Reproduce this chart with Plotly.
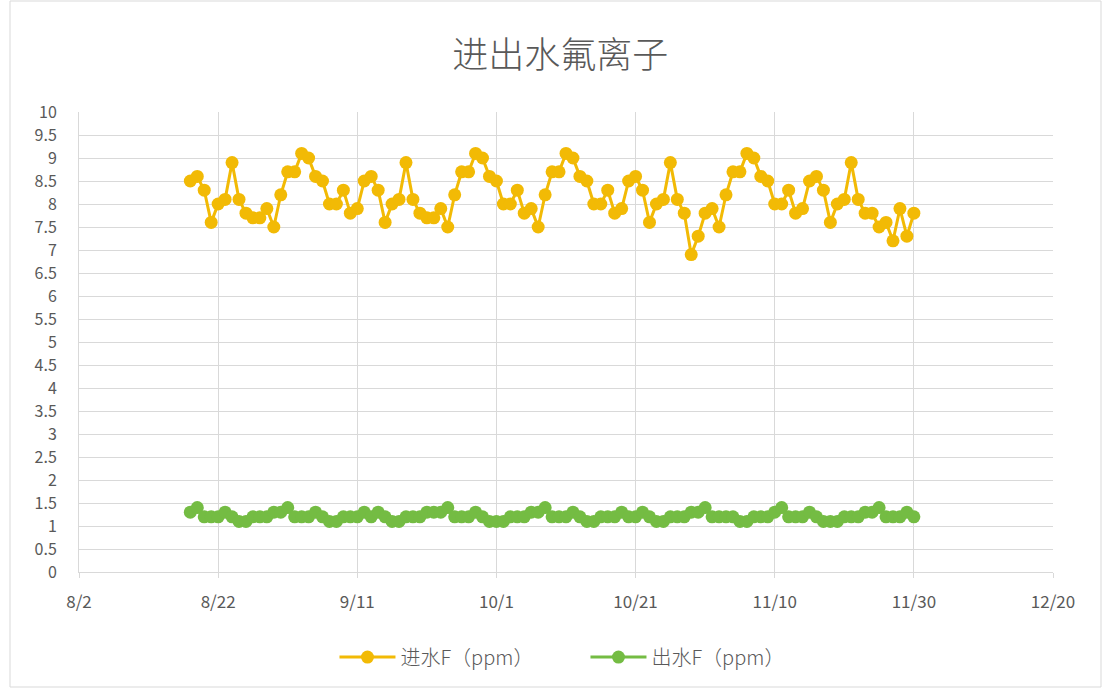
import pandas as pd
import plotly.graph_objects as go

# Daily sampling dates (8/18 – 11/30)
dates = pd.date_range("2023-08-18", "2023-11-30", freq="D")

# Influent fluoride, ppm
inflow_f = [
    8.5, 8.6, 8.3, 7.6, 8.0, 8.1, 8.9, 8.1, 7.8, 7.7, 7.7, 7.9, 7.5, 8.2, 8.7, 8.7, 9.1, 9.0, 8.6, 8.5, 8.0, 8.0, 8.3, 7.8, 7.9,
    8.5, 8.6, 8.3, 7.6, 8.0, 8.1, 8.9, 8.1, 7.8, 7.7, 7.7, 7.9, 7.5, 8.2, 8.7, 8.7, 9.1, 9.0, 8.6, 8.5, 8.0, 8.0, 8.3, 7.8, 7.9,
    7.5, 8.2, 8.7, 8.7, 9.1, 9.0, 8.6, 8.5, 8.0, 8.0, 8.3, 7.8, 7.9,
    8.5, 8.6, 8.3, 7.6, 8.0, 8.1, 8.9, 8.1, 7.8, 6.9, 7.3, 7.8, 7.9,
    7.5, 8.2, 8.7, 8.7, 9.1, 9.0, 8.6, 8.5, 8.0, 8.0, 8.3, 7.8, 7.9,
    8.5, 8.6, 8.3, 7.6, 8.0, 8.1, 8.9, 8.1, 7.8, 7.8, 7.5, 7.6, 7.2, 7.9, 7.3, 7.8,
]

# Effluent fluoride, ppm
outflow_f = [
    1.3, 1.4, 1.2, 1.2, 1.2, 1.3, 1.2, 1.1, 1.1, 1.2, 1.2, 1.2, 1.3, 1.3, 1.4, 1.2, 1.2, 1.2, 1.3, 1.2, 1.1, 1.1, 1.2, 1.2, 1.2,
    1.3, 1.2, 1.3, 1.2, 1.1, 1.1, 1.2, 1.2, 1.2, 1.3, 1.3, 1.3, 1.4, 1.2, 1.2, 1.2, 1.3, 1.2, 1.1, 1.1, 1.1, 1.2, 1.2, 1.2, 1.3,
    1.3, 1.4, 1.2, 1.2, 1.2, 1.3, 1.2, 1.1, 1.1, 1.2, 1.2, 1.2, 1.3, 1.2, 1.2, 1.3, 1.2, 1.1, 1.1, 1.2, 1.2, 1.2, 1.3, 1.3, 1.4,
    1.2, 1.2, 1.2, 1.2, 1.1, 1.1, 1.2, 1.2, 1.2, 1.3, 1.4, 1.2, 1.2, 1.2, 1.3, 1.2, 1.1, 1.1, 1.1, 1.2, 1.2, 1.2, 1.3, 1.3, 1.4,
    1.2, 1.2, 1.2, 1.3, 1.2,
]

series_names = ["进水F（ppm）", "出水F（ppm）"]
y_ticks = [i * 0.5 for i in range(21)]
y_tick_text = [f"{v:g}" for v in y_ticks]

GOLD = "#F2BA05"
GREEN = "#74BC43"
GRID = "#D9D9D9"
TEXT = "#595959"
FONT = "Noto Sans CJK SC, sans-serif"

fig = go.Figure()
for name, vals, color in [(series_names[0], inflow_f, GOLD), (series_names[1], outflow_f, GREEN)]:
    fig.add_trace(go.Scatter(
        x=dates, y=vals, name=name, mode="lines+markers",
        line=dict(color=color, width=3),
        marker=dict(color=color, size=13, line=dict(width=0)),
    ))

fig.update_layout(
    width=1103, height=689,
    margin=dict(l=79, r=50, t=112, b=117),
    paper_bgcolor="white", plot_bgcolor="white",
    font=dict(family=FONT, color=TEXT, size=16),
    title=dict(text="进出水氟离子", x=0.508, xanchor="center", y=1 - 55 / 689, yanchor="middle",
               yref="container", font=dict(size=36, color=TEXT, family=FONT, weight=300)),
    showlegend=True,
    legend=dict(orientation="h", x=0.52, xanchor="center", y=-0.185, yanchor="middle",
                font=dict(size=20, color=TEXT, family=FONT, weight=300), itemwidth=56,
                entrywidth=180, entrywidthmode="pixels", bgcolor="rgba(0,0,0,0)"),
    xaxis=dict(
        type="date", range=["2023-08-02", "2023-12-20"],
        tick0="2023-08-02", dtick=20 * 86400000, tickformat="%-m/%-d",
        showgrid=True, gridcolor=GRID, gridwidth=1,
        showline=True, linecolor=GRID, linewidth=1,
        ticks="outside", ticklen=5, tickcolor=GRID, ticklabelstandoff=10,
        tickfont=dict(size=17, color=TEXT, family=FONT), zeroline=False,
    ),
    yaxis=dict(
        range=[0, 10], tickvals=y_ticks, ticktext=y_tick_text,
        showgrid=True, gridcolor=GRID, gridwidth=1,
        showline=True, linecolor=GRID, linewidth=1, ticklabelstandoff=18,
        ticks="", tickfont=dict(size=16, color=TEXT, family=FONT), zeroline=False,
    ),
    shapes=[dict(type="rect", xref="paper", yref="paper",
                 x0=(10 - 79) / 974, x1=(1101 - 79) / 974,
                 y0=(572 - 687) / 460, y1=(572 - 1) / 460,
                 line=dict(color=GRID, width=1), fillcolor="rgba(0,0,0,0)", layer="below")],
)

fig.write_html("out.html")
